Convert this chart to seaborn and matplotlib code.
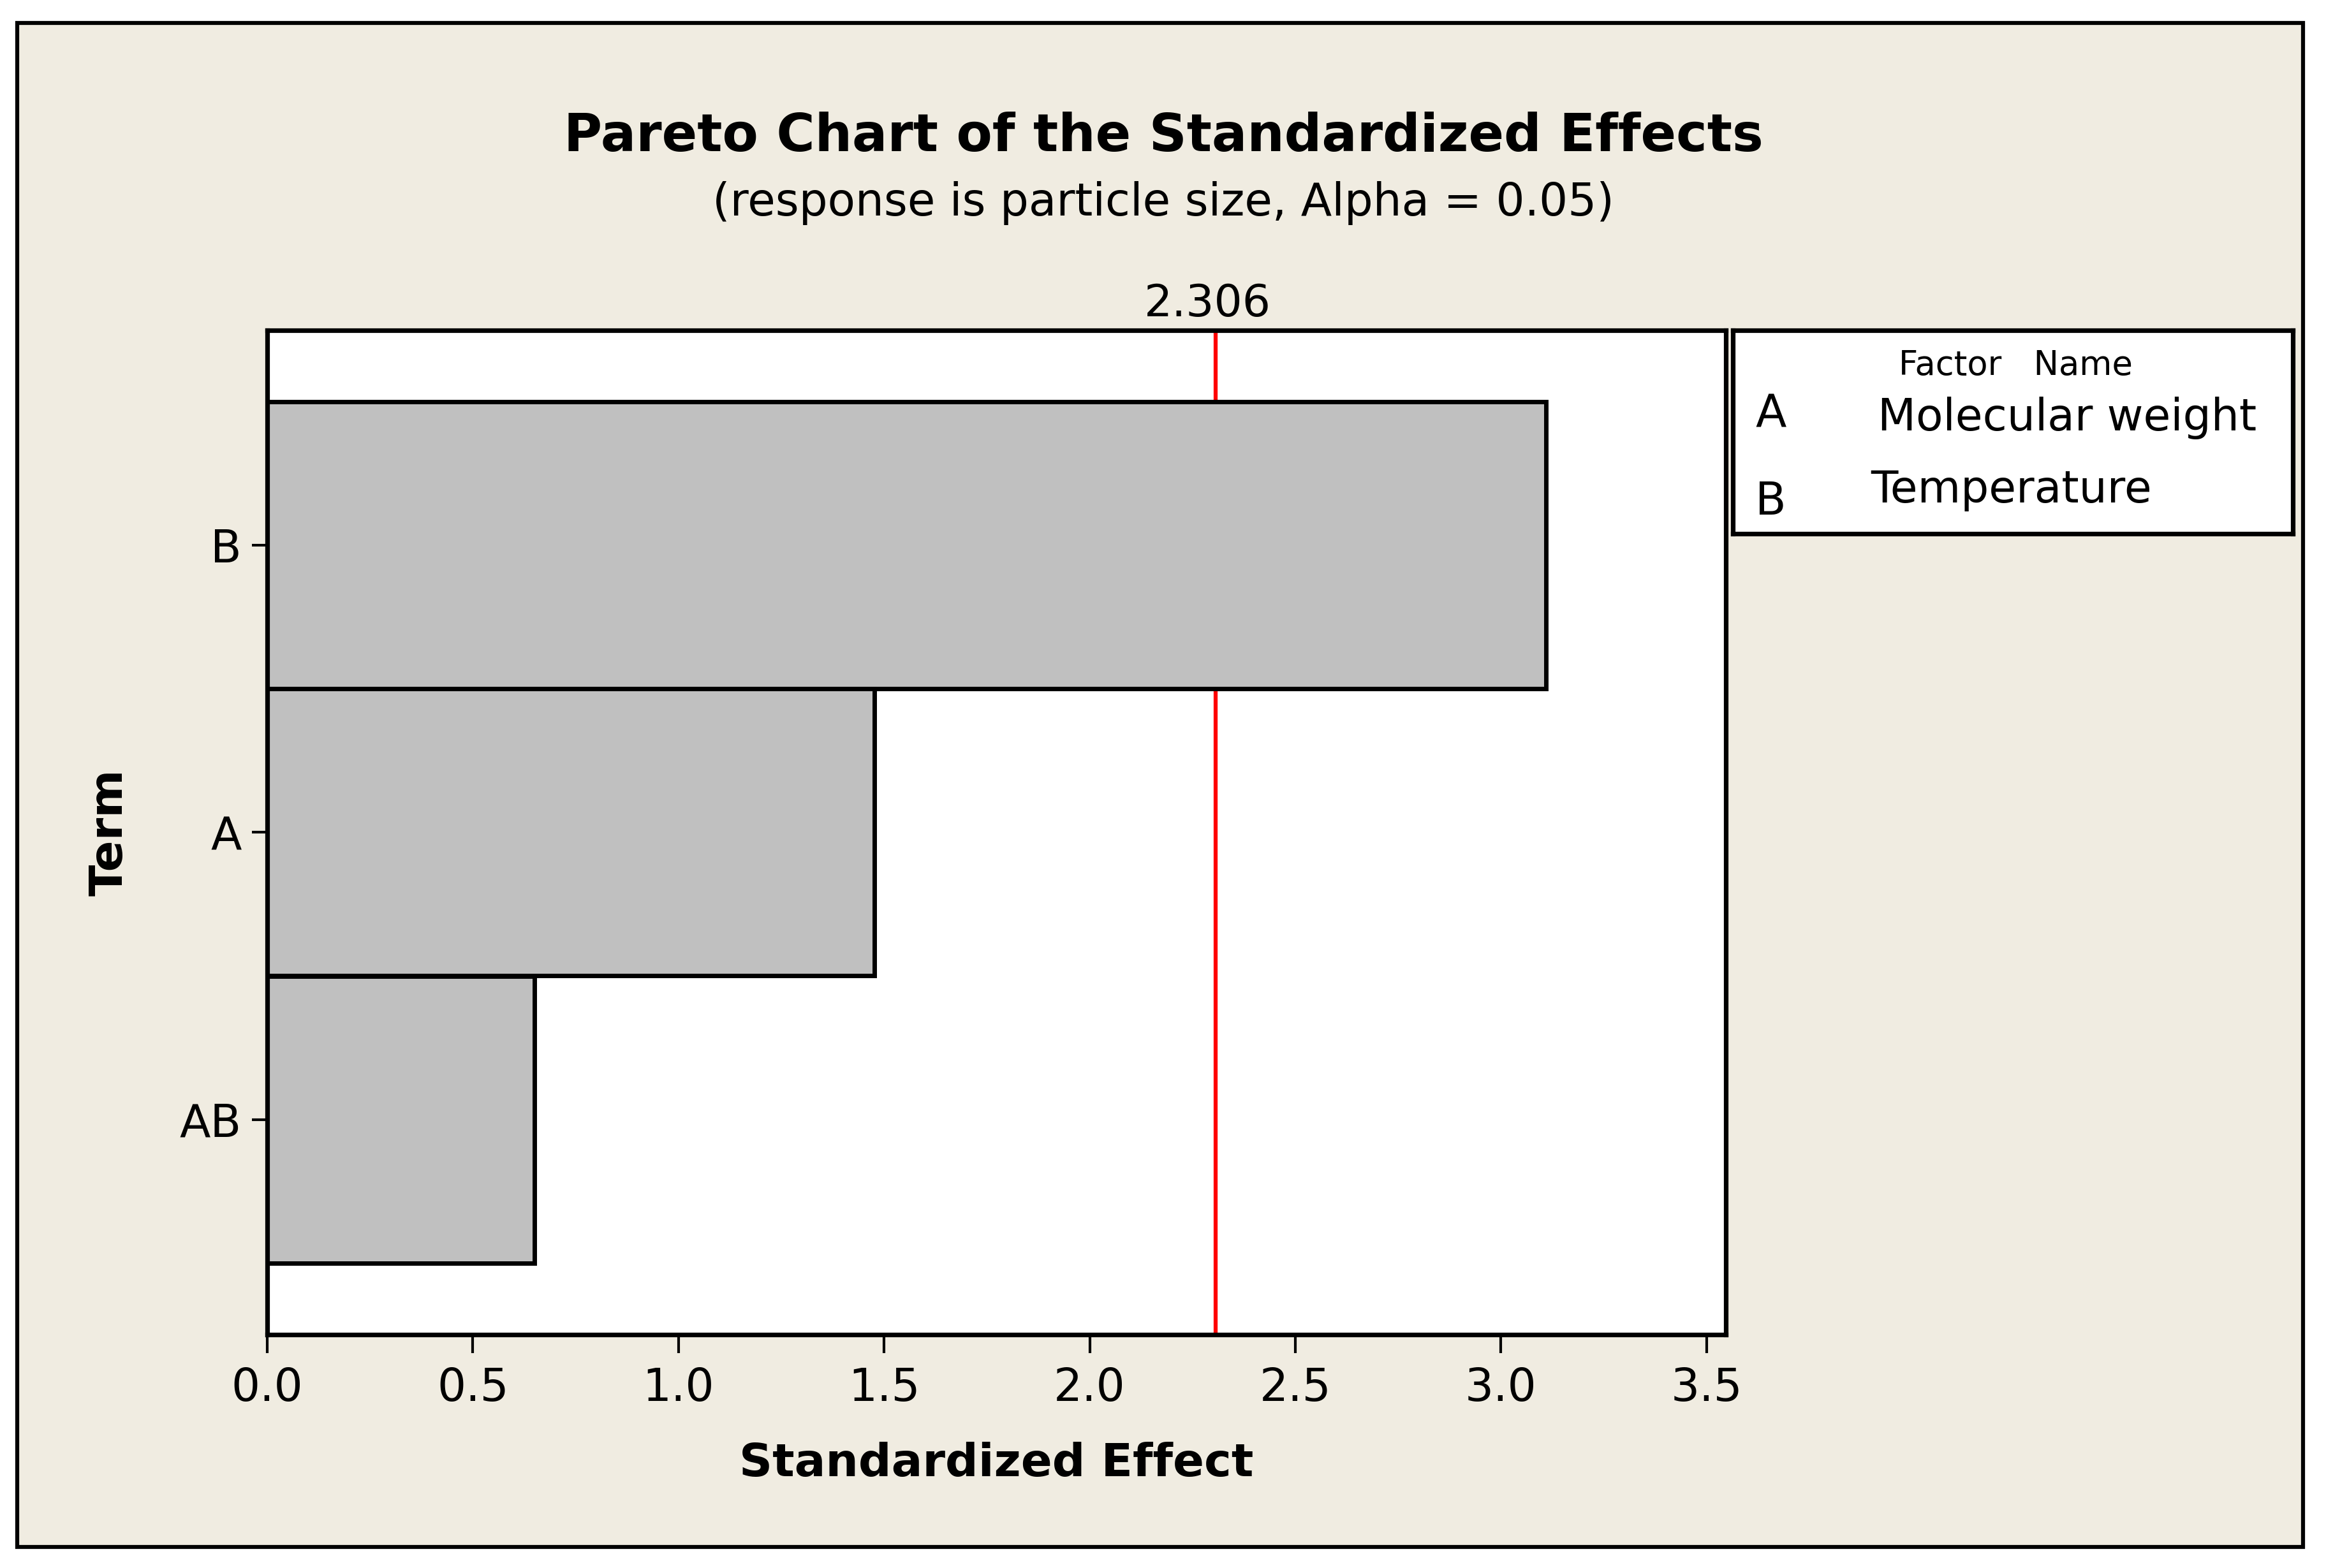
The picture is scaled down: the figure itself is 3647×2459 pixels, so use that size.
import numpy as np
import pandas as pd
import matplotlib
matplotlib.use("Agg")
import matplotlib.pyplot as plt
import matplotlib.transforms as mtransforms
from matplotlib.patches import Rectangle
import seaborn as sns

# Pareto chart data
terms = ["B", "A", "AB"]
effects = [3.11, 1.476, 0.65]
critical_value = 2.306
x_ticks = [0.0, 0.5, 1.0, 1.5, 2.0, 2.5, 3.0, 3.5]
factor_codes = ["A", "B"]
factor_names = ["Molecular weight", "Temperature"]

df = pd.DataFrame({"Term": terms, "Effect": effects})

sns.set_style("white")
plt.rcParams["font.family"] = ["DejaVu Sans"]
plt.rcParams["text.color"] = "black"
plt.rcParams["axes.labelcolor"] = "black"
plt.rcParams["xtick.color"] = "black"
plt.rcParams["ytick.color"] = "black"

W, H = 3648, 2459
DPI = 100

def fx(x):
    return x / W

def fy(y):
    return 1 - y / H

beige = "#F0ECE1"

fig = plt.figure(figsize=(W / DPI, H / DPI), dpi=DPI, facecolor="white")

# outer frame of the graph window
frame = Rectangle((fx(27), fy(2426)), fx(3611) - fx(27), fy(36) - fy(2426),
                  transform=fig.transFigure, facecolor=beige, edgecolor="black",
                  linewidth=4.5, zorder=-1)
fig.add_artist(frame)

# main axes
left, right, top, bottom = 419, 2706, 518, 2093
ax = fig.add_axes([fx(left), fy(bottom), fx(right) - fx(left), fy(top) - fy(bottom)])
ax.set_facecolor("white")

sns.barplot(data=df, x="Effect", y="Term", order=terms, orient="h",
            color="#C0C0C0", saturation=1, width=1.0,
            edgecolor="black", linewidth=5, ax=ax, zorder=2)

ax.axvline(critical_value, color="red", lw=4.5, zorder=1)

ax.set_xlim(0, 3.547)
ax.set_ylim(2.75, -0.75)
ax.set_xticks(x_ticks)
ax.set_xticklabels([f"{t:.1f}" for t in x_ticks])
ax.set_xlabel("")
ax.set_ylabel("")

for s in ax.spines.values():
    s.set_visible(True)
    s.set_color("black")
    s.set_linewidth(5.2)

ax.tick_params(axis="x", direction="out", length=21, width=3, pad=15,
               labelsize=51, colors="black", bottom=True)
ax.tick_params(axis="y", direction="out", length=17, width=3, pad=12,
               labelsize=51, colors="black", left=True)

# critical value label above the red line
trans = mtransforms.blended_transform_factory(ax.transData, ax.transAxes)
ax.annotate(f"{critical_value}", xy=(critical_value, 1.0), xycoords=trans,
            xytext=(-9, 16), textcoords="offset points",
            ha="center", va="baseline", fontsize=50, color="black")

# titles and axis labels
fig.text(0.5, fy(237), "Pareto Chart of the Standardized Effects",
         ha="center", va="baseline", fontsize=59, fontweight="bold", color="black")
fig.text(0.5, fy(338), "(response is particle size, Alpha = 0.05)",
         ha="center", va="baseline", fontsize=51, color="black")
fig.text(fx((left + right) / 2), fy(2315), "Standardized Effect",
         ha="center", va="baseline", fontsize=52, fontweight="bold", color="black")
fig.text(fx(207), fy((top + bottom) / 2), "Term", rotation=90,
         ha="right", va="center", fontsize=52, fontweight="bold", color="black")

# factor legend box
lx0, lx1, ly0, ly1 = 2717, 3595, 518, 837
lax = fig.add_axes([fx(lx0), fy(ly1), fx(lx1) - fx(lx0), fy(ly0) - fy(ly1)])
lax.set_facecolor("white")
lax.set_xticks([])
lax.set_yticks([])
for s in lax.spines.values():
    s.set_color("black")
    s.set_linewidth(5.2)

fig.text(fx(3160), fy(588), "Factor   Name", ha="center", va="baseline",
         fontsize=38, color="black")
code_y = [670, 807]
name_y = [675, 788]
name_x = [2944, 2933]
for code, name, cy, ny, nx in zip(factor_codes, factor_names, code_y, name_y, name_x):
    fig.text(fx(2752), fy(cy), code, ha="left", va="baseline", fontsize=51, color="black")
    fig.text(fx(nx), fy(ny), name, ha="left", va="baseline", fontsize=50, color="black")

fig.savefig("out.png", dpi=DPI, facecolor="white")
